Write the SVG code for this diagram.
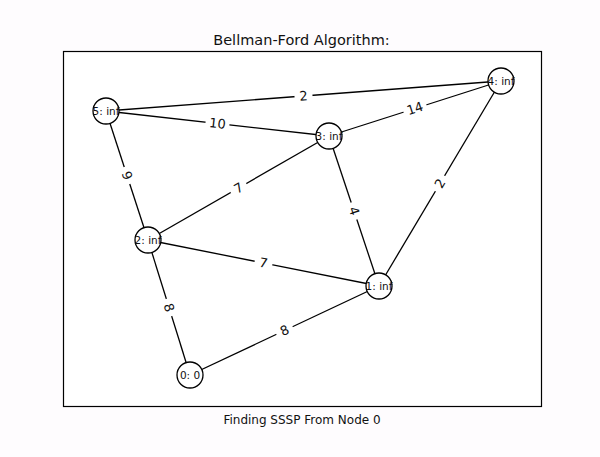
<svg xmlns="http://www.w3.org/2000/svg" width="600" height="457" viewBox="0 0 600 457">
<style>
text{font-family:"DejaVu Sans","Liberation Sans",sans-serif;fill:#111}
.e line{stroke:#000;stroke-width:1.3}
.lb rect{fill:#fff}
.lb text{font-size:13px;text-anchor:middle;dominant-baseline:central}
.n circle{fill:#fff;stroke:#000;stroke-width:1.3}
.n text{font-size:10.5px;text-anchor:middle;dominant-baseline:central}
</style>
<rect width="600" height="457" fill="#fefcfe"/>
<rect x="63.5" y="51.5" width="478" height="355" fill="#fff" stroke="#000" stroke-width="1.2"/>
<text x="301.5" y="45" font-size="14.5" text-anchor="middle">Bellman-Ford Algorithm:</text>
<text x="302" y="424" font-size="12" text-anchor="middle">Finding SSSP From Node 0</text>
<g id="edges" class="e">
<line x1="106" y1="111" x2="501" y2="81"/>
<line x1="106" y1="111" x2="329" y2="136"/>
<line x1="329" y1="136" x2="501" y2="81"/>
<line x1="106" y1="111" x2="148" y2="240"/>
<line x1="148" y1="240" x2="329" y2="136"/>
<line x1="329" y1="136" x2="379" y2="286"/>
<line x1="501" y1="81" x2="379" y2="286"/>
<line x1="148" y1="240" x2="379" y2="286"/>
<line x1="148" y1="240" x2="190" y2="375"/>
<line x1="190" y1="375" x2="379" y2="286"/>
</g>
<g id="edge-labels" class="lb">
<g transform="translate(303.5,96) rotate(-4.3)"><rect x="-9" y="-8" width="18" height="16"/><text>2</text></g>
<g transform="translate(217.5,123.5) rotate(6.4)"><rect x="-12" y="-8" width="24" height="16"/><text>10</text></g>
<g transform="translate(415,108.5) rotate(-17.7)"><rect x="-12" y="-8" width="24" height="16"/><text>14</text></g>
<g transform="translate(127,175.5) rotate(72)"><rect x="-9" y="-8" width="18" height="16"/><text>9</text></g>
<g transform="translate(238.5,188) rotate(-29.9)"><rect x="-9" y="-8" width="18" height="16"/><text>7</text></g>
<g transform="translate(354,211) rotate(71.6)"><rect x="-9" y="-8" width="18" height="16"/><text>4</text></g>
<g transform="translate(440,183.5) rotate(-59.2)"><rect x="-9" y="-8" width="18" height="16"/><text>2</text></g>
<g transform="translate(263.5,263) rotate(11.3)"><rect x="-9" y="-8" width="18" height="16"/><text>7</text></g>
<g transform="translate(169,307.5) rotate(72.7)"><rect x="-9" y="-8" width="18" height="16"/><text>8</text></g>
<g transform="translate(284.5,330.5) rotate(-25.2)"><rect x="-9" y="-8" width="18" height="16"/><text>8</text></g>
</g>
<g id="node5" class="n"><circle cx="106" cy="111" r="13"/><text x="106" y="111">5: inf</text></g>
<g id="node3" class="n"><circle cx="329" cy="136" r="13"/><text x="329" y="136">3: inf</text></g>
<g id="node4" class="n"><circle cx="501" cy="81" r="13"/><text x="501" y="81">4: inf</text></g>
<g id="node2" class="n"><circle cx="148" cy="240" r="13"/><text x="148" y="240">2: inf</text></g>
<g id="node1" class="n"><circle cx="379" cy="286" r="13"/><text x="379" y="286">1: inf</text></g>
<g id="node0" class="n"><circle cx="190" cy="375" r="13"/><text x="190" y="375">0: 0</text></g>
</svg>
